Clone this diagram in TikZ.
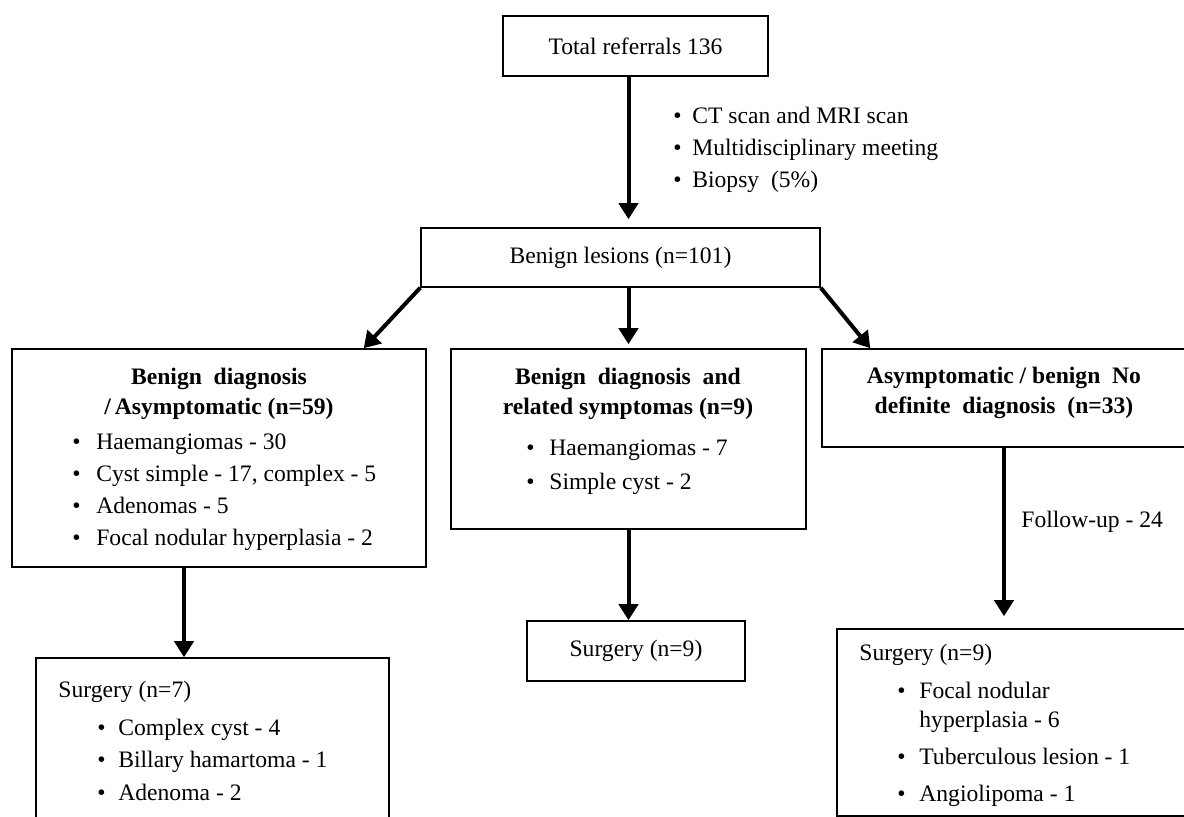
\documentclass[tikz,border=0pt]{standalone}
\usepackage{fontspec}
\setmainfont{Liberation Serif}
\usetikzlibrary{positioning, arrows.meta, calc}

\newcommand{\bul}[1][11pt]{\makebox[#1][l]{\textbullet}}

\begin{document}
\begin{tikzpicture}[
    x=0.5pt, y=-0.5pt,      % 1 unit = 1 pixel of the layout
    >={Triangle[length=8pt, width=9.5pt]},
    font=\fontsize{11.8}{15}\selectfont,
    box/.style={draw, line width=0.75pt, inner sep=0pt},
    head/.style={align=center, font=\fontsize{11.8}{15}\selectfont\bfseries},
    item/.style={anchor=base west, inner sep=0pt},
    arr/.style={->, line width=2pt}
]

    \useasboundingbox (0,0) rectangle (1184,817);
    \clip (0,0) rectangle (1184,817);

    % --- boxes ---
    \node [box, minimum width=132.5pt, minimum height=30pt] (total) at (635.5,46) {Total referrals 136};
    \node [box, minimum width=199.5pt, minimum height=29.5pt] (benign) at (620.5,257.5) {Benign lesions (n=101)};

    \node [box, minimum width=207pt, minimum height=109pt] (diag) at (219,458) {};
    \node [box, minimum width=177.5pt, minimum height=90pt] (sympt) at (628.5,439) {};
    \node [box, minimum width=189pt, minimum height=49pt] (asym) at (1011,398) {};

    \node [box, minimum width=176.5pt, minimum height=86pt] (lsurg) at (212.5,744) {};
    \node [box, minimum width=109pt, minimum height=30pt] (msurg) at (636,651) {Surgery (n=9)};
    \node [box, minimum width=181.5pt, minimum height=93.5pt] (rsurg) at (1018.5,722.5) {};

    % --- headings ---
    \node [head] (diaghead) at (219,394) {Benign~~diagnosis\\/\,Asymptomatic (n=59)};
    \node [head] (sympthead) at (628,394) {Benign~~diagnosis~~and\\related symptomas (n=9)};
    \node [head] (asymhead) at (1004,393) {Asymptomatic / benign~~No\\definite~~diagnosis~~(n=33)};

    % --- lists ---
    \foreach \txt [count=\i] in {CT scan and MRI scan, Multidisciplinary meeting, Biopsy~ (5\%)}
        \node [item] (exam\i) at (673, 92+32*\i) {\bul[9.5pt]\txt};

    \foreach \txt [count=\i] in {Haemangiomas - 30, {Cyst simple - 17, complex - 5}, Adenomas - 5, Focal nodular hyperplasia - 2}
        \node [item] (diag\i) at (72, 418+32*\i) {\bul[12pt]\txt};

    \foreach \txt [count=\i] in {Haemangiomas - 7, Simple cyst - 2}
        \node [item] (sympt\i) at (526, 422+34*\i) {\bul[11.5pt]\txt};

    \node [item] (lsurgtitle) at (58,698) {Surgery (n=7)};
    \foreach \txt [count=\i] in {Complex cyst - 4, Billary hamartoma - 1, Adenoma - 2}
        \node [item] (lsurg\i) at (97, 704+32*\i) {\bul[10.5pt]\txt};

    \node [item] (rsurgtitle) at (859,661) {Surgery (n=9)};
    \node [item] (rsurg1) at (897,699) {\bul Focal nodular};
    \node [item] (rsurg1b) at (919,728) {hyperplasia - 6};
    \node [item] (rsurg2) at (897,765) {\bul Tuberculous lesion - 1};
    \node [item] (rsurg3) at (897,801) {\bul Angiolipoma - 1};

    \node [item] (follow) at (1021,528) {Follow-up - 24};

    % --- arrows ---
    \draw [arr, shorten >=4pt] (total.south -| sympt.north) -- (benign.north -| sympt.north);
    \draw [arr] (benign.south west) -- ($(diag.north east)+(-63,0)$);
    \draw [arr, shorten >=2pt] (benign.south -| sympt.north) -- (sympt.north);
    \draw [arr] (benign.south east) -- ($(asym.north west)+(49,0)$);

    \draw [arr] ($(diag.south)+(-35,0)$) coordinate (dgo) -- (dgo |- lsurg.north);
    \draw [arr] (sympt.south) -- (sympt.south |- msurg.north);
    \draw [arr, shorten >=6pt] ($(asym.south)+(-7,0)$) coordinate (ago) -- (ago |- rsurg.north);

\end{tikzpicture}
\end{document}
